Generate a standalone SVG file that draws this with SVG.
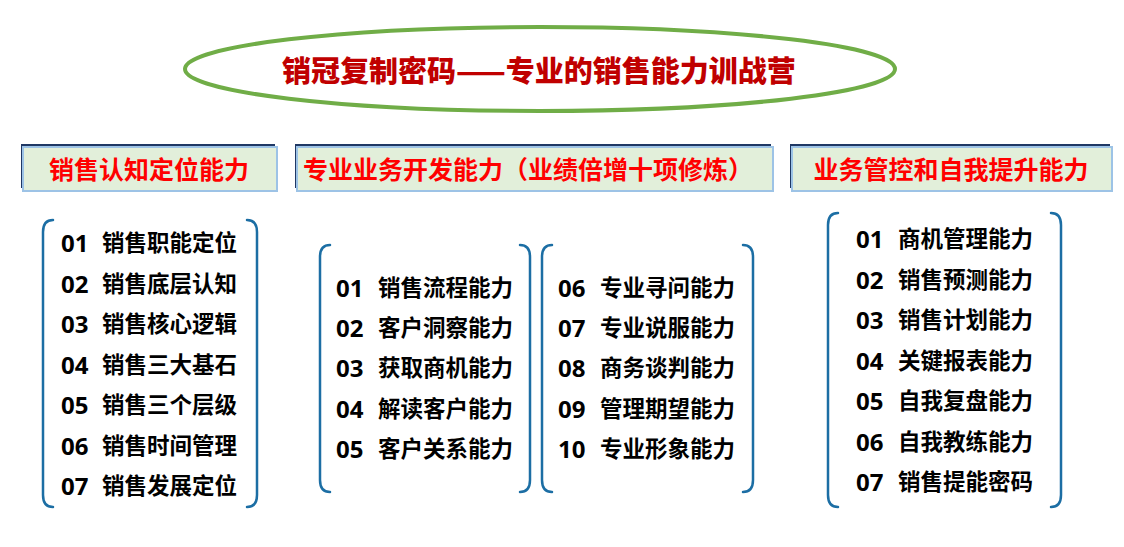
<svg xmlns="http://www.w3.org/2000/svg" width="1124" height="547" viewBox="0 0 1124 547">
<style>
.title{font-family:"Noto Sans CJK SC","Liberation Sans",sans-serif;font-weight:900;font-size:29px;fill:#C00000}
.hshadow{fill:#1F3864}
.hbox{fill:#E2EFDA;stroke:#9DC3E6;stroke-width:2}
.htext{font-family:"Noto Sans CJK SC","Liberation Sans",sans-serif;font-weight:700;font-size:25px;fill:#FF0000}
.br{fill:none;stroke:#1C6EA4;stroke-width:2.5;stroke-linecap:round}
.item{font-family:"Open Sans","Noto Sans CJK SC",sans-serif;font-weight:700;font-size:22.5px;fill:#000}
.n{font-size:24px}
</style>
<rect width="1124" height="547" fill="#fff"/>
<g id="title">
<ellipse cx="540" cy="69" rx="355" ry="42" fill="#fff" stroke="#70AD47" stroke-width="4"/>
<text class="title" x="539" y="69" text-anchor="middle" dominant-baseline="central">销冠复制密码——专业的销售能力训战营</text>
</g>
<g id="header1">
<rect class="hshadow" x="21" y="144" width="254" height="44"/>
<rect class="hbox" x="23" y="147" width="254" height="44"/>
<text class="htext" x="149" y="168" text-anchor="middle" dominant-baseline="central">销售认知定位能力</text>
</g>
<g id="header2">
<rect class="hshadow" x="295" y="144" width="476" height="44"/>
<rect class="hbox" x="297" y="147" width="476" height="44"/>
<text class="htext" x="528" y="168" text-anchor="middle" dominant-baseline="central">专业业务开发能力（业绩倍增十项修炼）</text>
</g>
<g id="header3">
<rect class="hshadow" x="790" y="144" width="320" height="44"/>
<rect class="hbox" x="792" y="147" width="320" height="44"/>
<text class="htext" x="951" y="168" text-anchor="middle" dominant-baseline="central">业务管控和自我提升能力</text>
</g>
<g id="list1">
<path class="br" d="M53,220 Q43,220 43,232 L43,495 Q43,507 53,507"/>
<path class="br" d="M247,220 Q257,220 257,232 L257,495 Q257,507 247,507"/>
<text class="item" dominant-baseline="central" y="242"><tspan class="n" x="61">01</tspan><tspan x="102">销售职能定位</tspan></text>
<text class="item" dominant-baseline="central" y="282.5"><tspan class="n" x="61">02</tspan><tspan x="102">销售底层认知</tspan></text>
<text class="item" dominant-baseline="central" y="323"><tspan class="n" x="61">03</tspan><tspan x="102">销售核心逻辑</tspan></text>
<text class="item" dominant-baseline="central" y="363.5"><tspan class="n" x="61">04</tspan><tspan x="102">销售三大基石</tspan></text>
<text class="item" dominant-baseline="central" y="404"><tspan class="n" x="61">05</tspan><tspan x="102">销售三个层级</tspan></text>
<text class="item" dominant-baseline="central" y="444.5"><tspan class="n" x="61">06</tspan><tspan x="102">销售时间管理</tspan></text>
<text class="item" dominant-baseline="central" y="485"><tspan class="n" x="61">07</tspan><tspan x="102">销售发展定位</tspan></text>
</g>
<g id="list2a">
<path class="br" d="M330,245 Q320,245 320,257 L320,480 Q320,492 330,492"/>
<path class="br" d="M520,245 Q530,245 530,257 L530,480 Q530,492 520,492"/>
<text class="item" dominant-baseline="central" y="287"><tspan class="n" x="336">01</tspan><tspan x="378">销售流程能力</tspan></text>
<text class="item" dominant-baseline="central" y="327"><tspan class="n" x="336">02</tspan><tspan x="378">客户洞察能力</tspan></text>
<text class="item" dominant-baseline="central" y="367"><tspan class="n" x="336">03</tspan><tspan x="378">获取商机能力</tspan></text>
<text class="item" dominant-baseline="central" y="407.5"><tspan class="n" x="336">04</tspan><tspan x="378">解读客户能力</tspan></text>
<text class="item" dominant-baseline="central" y="448"><tspan class="n" x="336">05</tspan><tspan x="378">客户关系能力</tspan></text>
</g>
<g id="list2b">
<path class="br" d="M552,245 Q542,245 542,257 L542,480 Q542,492 552,492"/>
<path class="br" d="M743,245 Q753,245 753,257 L753,480 Q753,492 743,492"/>
<text class="item" dominant-baseline="central" y="287"><tspan class="n" x="558">06</tspan><tspan x="600">专业寻问能力</tspan></text>
<text class="item" dominant-baseline="central" y="327"><tspan class="n" x="558">07</tspan><tspan x="600">专业说服能力</tspan></text>
<text class="item" dominant-baseline="central" y="367"><tspan class="n" x="558">08</tspan><tspan x="600">商务谈判能力</tspan></text>
<text class="item" dominant-baseline="central" y="407.5"><tspan class="n" x="558">09</tspan><tspan x="600">管理期望能力</tspan></text>
<text class="item" dominant-baseline="central" y="448"><tspan class="n" x="558">10</tspan><tspan x="600">专业形象能力</tspan></text>
</g>
<g id="list3">
<path class="br" d="M838,213 Q828,213 828,225 L828,495 Q828,507 838,507"/>
<path class="br" d="M1051,213 Q1061,213 1061,225 L1061,495 Q1061,507 1051,507"/>
<text class="item" dominant-baseline="central" y="238"><tspan class="n" x="856">01</tspan><tspan x="898">商机管理能力</tspan></text>
<text class="item" dominant-baseline="central" y="278.5"><tspan class="n" x="856">02</tspan><tspan x="898">销售预测能力</tspan></text>
<text class="item" dominant-baseline="central" y="319"><tspan class="n" x="856">03</tspan><tspan x="898">销售计划能力</tspan></text>
<text class="item" dominant-baseline="central" y="359.5"><tspan class="n" x="856">04</tspan><tspan x="898">关键报表能力</tspan></text>
<text class="item" dominant-baseline="central" y="400"><tspan class="n" x="856">05</tspan><tspan x="898">自我复盘能力</tspan></text>
<text class="item" dominant-baseline="central" y="440.5"><tspan class="n" x="856">06</tspan><tspan x="898">自我教练能力</tspan></text>
<text class="item" dominant-baseline="central" y="481"><tspan class="n" x="856">07</tspan><tspan x="898">销售提能密码</tspan></text>
</g>
<g id="connectors"></g>
</svg>
